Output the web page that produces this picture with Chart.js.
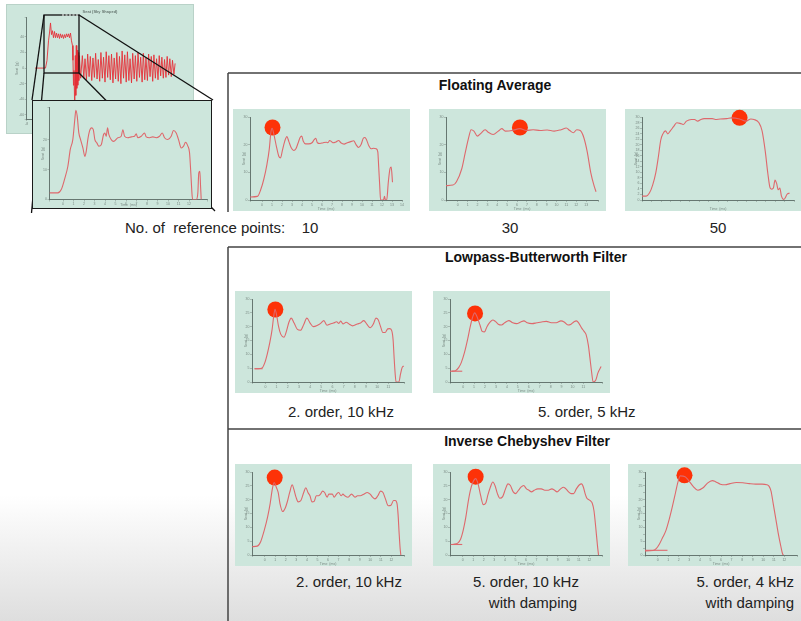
<!DOCTYPE html>
<html><head><meta charset="utf-8">
<script src="https://cdn.jsdelivr.net/npm/chart.js@4"></script>
<style>
html,body{margin:0;padding:0;}
body{width:801px;height:621px;overflow:hidden;position:relative;font-family:"Liberation Sans",Arial,sans-serif;background:linear-gradient(to bottom,#fff 0px,#fff 495px,#dedede 621px);}
.panel{position:absolute;background:#cde6dc;}
canvas{display:block;}
.t{position:absolute;white-space:pre;color:#222;font-size:15px;line-height:18px;}
.b{font-weight:bold;font-size:14px;color:#111;}
</style></head><body>

<div class="panel" style="left:7px;top:5px;width:186px;height:128px;z-index:0;box-shadow:0 0 0 1px #b9d2c8;"><canvas id="big" width="186" height="128"></canvas></div>

<svg width="801" height="621" style="position:absolute;left:0;top:0;z-index:1" stroke="#111" stroke-width="1.3" fill="none">
<rect x="44" y="15" width="35" height="58"/>
<line x1="44" y1="15" x2="32" y2="100"/>
<line x1="44" y1="73" x2="31.5" y2="213"/>
<line x1="79" y1="15" x2="213" y2="100"/>
<line x1="79" y1="73" x2="215" y2="211"/>
<line x1="62" y1="15" x2="78" y2="15" stroke="#fff" stroke-width="1" stroke-dasharray="2 1.5"/>
</svg>

<div style="position:absolute;left:32px;top:100px;width:180px;height:109px;box-sizing:border-box;border:1.5px solid #1a1a1a;background:#cde6dc;z-index:2;"><canvas id="inset" width="177" height="106"></canvas></div>

<svg width="801" height="621" style="position:absolute;left:0;top:0;z-index:3" stroke="#444" stroke-width="1.5" fill="none">
<path d="M228,73 H801 M228,73 V212 M228,247 H801 M228,247 V621 M228,429 H801"/>
</svg>

<div class="panel" style="left:233px;top:109px;width:177px;height:102px;"><canvas id="fa10" width="177" height="102"></canvas></div>
<div class="panel" style="left:429px;top:109px;width:177px;height:102px;"><canvas id="fa30" width="177" height="102"></canvas></div>
<div class="panel" style="left:625px;top:109px;width:177px;height:102px;"><canvas id="fa50" width="177" height="102"></canvas></div>
<div class="panel" style="left:235px;top:291px;width:177px;height:102px;"><canvas id="bw1" width="177" height="102"></canvas></div>
<div class="panel" style="left:433px;top:291px;width:177px;height:102px;"><canvas id="bw2" width="177" height="102"></canvas></div>
<div class="panel" style="left:235px;top:464px;width:177px;height:102px;"><canvas id="ch1" width="177" height="102"></canvas></div>
<div class="panel" style="left:433px;top:464px;width:177px;height:102px;"><canvas id="ch2" width="177" height="102"></canvas></div>
<div class="panel" style="left:628px;top:464px;width:177px;height:102px;"><canvas id="ch3" width="177" height="102"></canvas></div>

<div class="t b" style="left:395px;width:200px;text-align:center;top:76px;">Floating Average</div>
<div class="t" style="left:125px;top:219px;">No. of  reference points:    10</div>
<div class="t" style="left:470px;width:80px;text-align:center;top:219px;">30</div>
<div class="t" style="left:678px;width:80px;text-align:center;top:219px;">50</div>
<div class="t b" style="left:436px;width:200px;text-align:center;top:248px;">Lowpass-Butterworth Filter</div>
<div class="t" style="left:288px;top:403px;">2. order, 10 kHz</div>
<div class="t" style="left:538px;top:403px;">5. order, 5 kHz</div>
<div class="t b" style="left:427px;width:200px;text-align:center;top:432px;">Inverse Chebyshev Filter</div>
<div class="t" style="left:249px;width:200px;text-align:center;top:573px;">2. order, 10 kHz</div>
<div class="t" style="left:426px;width:200px;text-align:center;top:573px;">5. order, 10 kHz</div>
<div class="t" style="left:433px;width:200px;text-align:center;top:594px;">with damping</div>
<div class="t" style="left:594px;width:200px;text-align:right;top:573px;">5. order, 4 kHz</div>
<div class="t" style="left:594px;width:200px;text-align:right;top:594px;">with damping</div>

<script>
// ---------- data (time in ms, value in g) ----------
const bigSignal = [[-4.56,0],[-0.2,0],[0.42,9.8],[1.05,35],[1.46,45],[1.88,58],[2.29,43],[2.7,48],[3.12,39],[3.54,47],[3.95,39],[4.37,45],[4.78,39],[5.2,44],[5.61,38],[6.02,44],[6.44,39],[6.85,43],[7.27,38],[7.68,43],[8.1,39],[8.51,44],[8.93,40],[9.34,44],[9.76,39],[10.17,45],[10.59,35],[11.0,29],[11.21,10],[11.42,-22],[11.63,-3],[11.96,-57],[12.17,16],[12.37,-35],[12.58,29],[12.79,-26],[13.0,23],[13.2,-22],[13.41,20],[13.62,-16],[13.83,16],
[14.4,-13],[15.1,16],[15.7,-13],[16.2,12],[16.8,-15],[17.3,18],[17.9,-11],[18.4,15],[19.0,-16],[19.5,13],[20.1,-12],[20.6,19],[21.2,-14],[21.7,11],[22.3,-17],[22.8,20],[23.4,-13],[23.9,14],[24.5,-18],[25.0,21],[25.6,-12],[26.1,16],[26.7,-15],[27.2,18],[27.8,-19],[28.3,13],[28.9,-14],[29.4,20],[30.0,-17],[30.5,15],[31.1,-20],[31.6,22],[32.2,-13],[32.7,17],[33.3,-18],[33.8,21],[34.4,-16],[34.9,12],[35.5,-19],[36.0,19],[36.6,-14],[37.1,16],[37.7,-17],[38.2,20],[38.8,-12],[39.3,14],[39.9,-18],[40.4,19],[41.0,-15],[41.5,13],[42.1,-16],[42.6,18],[43.2,-11],[43.7,15],[44.3,-17],[44.8,17],[45.4,-13],[45.9,12],[46.5,-15],[47.0,16],[47.6,-10],[48.1,14],[48.7,-13],[49.2,11],[49.8,-12],[50.3,15],[50.9,-9],[51.4,12],[52.0,-11],[52.5,10],[53.1,-8],[53.6,6]];
const bigYTicks = [-60,-40,-20,0,20,40,60];

const insetSignal = [[-1.29,2.2],[-0.5,2.2],[-0.17,3.3],[0.14,6.7],[0.46,11.1],[0.69,16.7],[0.93,20],[1.12,26.7],[1.22,29.8],[1.35,27.8],[1.5,22.3],[1.67,20],[1.89,17.2],[2.08,14.4],[2.21,16.1],[2.36,20],[2.52,22.8],[2.71,23.9],[2.88,23.3],[3.03,20],[3.22,18.9],[3.41,17.8],[3.64,18.3],[3.86,21.7],[3.98,22.2],[4.11,21.1],[4.24,23.9],[4.36,21.7],[4.59,20],[4.81,19.4],[5.22,20.6],[5.54,21.1],[5.7,23.3],[5.86,21.1],[6.17,20.6],[6.5,20.9],[6.81,21.1],[6.97,21.9],[7.12,20.6],[7.45,21.1],[7.76,22.2],[7.92,20.9],[8.24,20.6],[8.55,20.9],[8.88,20.6],[9.19,21.1],[9.45,22.2],[9.67,20.6],[9.98,20],[10.3,21.1],[10.52,23],[10.78,22.2],[11.0,20],[11.26,17.2],[11.48,17.8],[11.67,19.1],[11.89,17.8],[12.05,15.6],[12.17,8.9],[12.3,1.1],[12.36,0],[12.69,0],[12.84,2.2],[12.93,8.9],[13.03,9.4],[13.1,4.4],[13.16,0]];

const fa10 = [[-1.2,1.1],[-0.46,1.3],[-0.14,3.6],[0.18,7.5],[0.5,13.0],[0.73,18.5],[0.89,24.5],[1.01,25.9],[1.21,23.4],[1.46,19.0],[1.69,15.7],[1.85,15.2],[2.04,17.9],[2.27,21.2],[2.49,22.9],[2.68,21.2],[2.91,19.0],[3.17,17.9],[3.39,18.5],[3.62,20.7],[3.81,22.6],[3.97,23.1],[4.13,21.2],[4.35,20.3],[4.67,20.3],[5.0,20.7],[5.22,21.8],[5.38,22.3],[5.54,20.7],[5.8,20.4],[6.12,20.7],[6.44,20.9],[6.6,20.7],[6.76,21.5],[6.92,21.2],[7.08,20.7],[7.4,21.0],[7.66,21.5],[7.88,20.7],[8.21,20.2],[8.53,20.7],[8.94,21.2],[9.17,21.4],[9.39,20.1],[9.65,19.0],[9.91,20.1],[10.13,22.3],[10.29,22.6],[10.45,21.8],[10.68,19.6],[10.93,18.5],[11.16,18.7],[11.42,18.5],[11.58,17.4],[11.67,11.9],[11.77,5.3],[11.86,0],[12.15,0],[12.25,1.3],[12.34,0],[12.47,0],[12.63,6.4],[12.8,11.3],[12.92,11.9],[13.05,6.4]];
const fa30 = [[-1.2,5.2],[-0.49,5.4],[-0.14,6.6],[0.39,11.2],[0.74,16.9],[1.1,22.6],[1.34,25.4],[1.63,24.9],[1.98,23.1],[2.33,24.1],[2.76,25.4],[3.04,24.6],[3.57,23.7],[4.1,24.9],[4.45,25.8],[4.81,24.9],[5.51,25.1],[6.29,25.8],[6.93,25.1],[7.63,25.4],[8.34,25.1],[9.05,25.3],[9.75,24.9],[10.46,25.4],[10.99,26.0],[11.34,25.1],[11.7,24.3],[12.05,25.4],[12.4,25.1],[12.76,22.6],[13.11,17.4],[13.46,10.0],[13.82,4.9],[14.0,3.0]];
const fa50 = [[-1.2,1.4],[-0.76,1.4],[-0.42,2.5],[-0.08,5.4],[0.26,10.0],[0.53,15.8],[0.77,21.6],[1.0,23.9],[1.27,25.0],[1.51,23.9],[1.78,25.0],[2.12,26.5],[2.46,27.9],[2.8,27.7],[3.14,27.3],[3.48,28.5],[3.99,29.1],[4.33,29.1],[4.66,28.5],[5.0,29.1],[5.34,29.4],[6.19,29.4],[6.53,29.1],[7.04,29.3],[7.72,29.4],[8.22,29.7],[9.07,29.3],[9.75,28.5],[10.26,29.3],[10.6,29.1],[11.11,27.9],[11.44,25.0],[11.78,17.5],[12.05,9.5],[12.29,4.3],[12.46,3.9],[12.63,4.3],[12.8,7.2],[12.97,6.0],[13.14,3.7],[13.31,4.3],[13.48,1.4],[13.72,0.2],[13.88,0.8],[14.05,2.0],[14.33,2.5]];
const bw1 = [[-0.97,4.8],[-0.63,4.8],[-0.29,5.1],[-0.06,6.9],[0.17,10.2],[0.4,14.4],[0.6,19.0],[0.74,23.7],[0.86,26.3],[1.0,24.2],[1.17,20.2],[1.37,17.3],[1.66,16.2],[1.89,18.5],[2.11,21.7],[2.31,23.1],[2.57,21.3],[2.86,19.0],[3.14,18.7],[3.43,20.8],[3.71,23.1],[4.0,21.3],[4.29,20.0],[4.66,20.5],[4.94,21.2],[5.23,22.2],[5.51,20.5],[5.8,21.0],[6.09,21.3],[6.37,21.8],[6.57,21.2],[6.74,22.0],[6.94,21.0],[7.23,21.6],[7.51,20.9],[7.8,20.3],[8.23,21.0],[8.51,21.3],[8.8,22.2],[9.09,20.8],[9.37,19.6],[9.66,21.0],[9.89,23.1],[10.09,22.5],[10.29,20.2],[10.51,17.9],[10.71,17.9],[10.94,19.2],[11.14,19.3],[11.31,18.5],[11.43,15.0],[11.51,9.2],[11.6,3.5],[11.69,0],[11.94,0],[12.09,2.9],[12.23,5.2],[12.37,5.8]];
const bw2 = [[-1.05,3.9],[-0.7,4.1],[-0.41,5.2],[-0.17,7.0],[0.12,10.6],[0.42,15.6],[0.65,20.0],[0.86,23.3],[1.06,25.0],[1.3,23.3],[1.54,20.6],[1.74,18.3],[1.95,18.1],[2.18,20.0],[2.48,21.7],[2.71,22.4],[2.95,21.9],[3.21,20.9],[3.51,20.6],[3.8,21.4],[4.18,22.2],[4.54,21.4],[4.89,21.1],[5.27,21.7],[5.56,22.1],[5.86,21.4],[6.3,21.1],[6.74,21.4],[7.18,21.7],[7.62,21.9],[8.06,21.4],[8.51,21.4],[8.95,22.1],[9.24,21.7],[9.59,20.6],[9.83,20.8],[10.12,21.7],[10.36,22.1],[10.56,21.4],[10.86,19.4],[11.06,18.3],[11.24,17.2],[11.45,13.3],[11.59,8.9],[11.74,3.9],[11.89,0],[12.12,0.6],[12.33,3.3],[12.62,5.6]];
const ch1 = [[-1.2,3.0],[-0.7,3.2],[-0.37,4.9],[-0.04,8.9],[0.29,14.0],[0.52,18.6],[0.72,23.7],[0.89,26.2],[1.12,24.3],[1.28,22.6],[1.45,18.6],[1.71,15.7],[1.94,16.9],[2.18,19.7],[2.37,22.6],[2.61,25.4],[2.77,23.7],[2.97,20.9],[3.17,19.2],[3.43,19.7],[3.7,22.6],[3.9,24.3],[4.1,22.6],[4.29,21.4],[4.49,19.2],[4.69,19.4],[4.89,21.4],[5.09,21.4],[5.29,22.0],[5.49,23.1],[5.68,22.6],[5.92,20.9],[6.08,22.0],[6.41,22.0],[6.58,20.9],[6.81,22.0],[7.01,22.6],[7.24,21.4],[7.41,22.0],[7.6,21.4],[7.9,20.9],[8.23,22.0],[8.56,20.9],[8.8,21.4],[9.06,21.4],[9.39,22.0],[9.72,22.6],[9.99,22.0],[10.22,20.9],[10.45,20.3],[10.72,21.4],[10.98,23.1],[11.21,22.6],[11.44,20.3],[11.71,17.8],[11.97,18.0],[12.21,19.7],[12.37,19.7],[12.54,18.6],[12.64,14.6],[12.74,7.8],[12.84,2.1],[12.9,0]];
const ch2 = [[-0.87,3.9],[-0.47,4.3],[-0.2,5.7],[0.06,9.1],[0.3,13.7],[0.53,19.4],[0.73,23.4],[0.96,26.2],[1.23,27.6],[1.46,25.7],[1.69,21.7],[1.96,18.2],[2.19,18.8],[2.39,21.7],[2.62,24.5],[2.86,26.4],[3.06,25.1],[3.29,22.2],[3.52,20.5],[3.79,21.1],[4.06,23.9],[4.29,25.7],[4.52,25.1],[4.79,22.8],[5.02,22.2],[5.29,23.4],[5.52,24.5],[5.78,25.1],[6.05,23.9],[6.28,23.4],[6.52,22.8],[6.78,23.4],[7.12,23.9],[7.45,23.9],[7.78,23.4],[8.11,23.4],[8.45,23.9],[8.71,23.4],[8.94,22.8],[9.28,23.9],[9.54,24.5],[9.78,23.9],[10.04,22.8],[10.27,22.2],[10.51,22.2],[10.77,23.9],[11.04,25.3],[11.27,25.7],[11.44,24.5],[11.6,22.2],[11.77,20.5],[11.94,20.0],[12.1,19.6],[12.27,18.8],[12.44,16.0],[12.6,10.3],[12.77,3.4],[12.87,0]];
const ch3 = [[-1.2,1.5],[-0.44,1.6],[-0.14,2.3],[0.17,4.0],[0.47,6.3],[0.77,8.7],[1.08,12.7],[1.38,17.3],[1.69,22.5],[1.93,26.5],[2.14,28.6],[2.6,28.3],[2.9,27.1],[3.36,24.8],[3.81,23.4],[4.27,24.2],[4.72,26.0],[5.18,26.9],[5.48,26.5],[5.94,25.6],[6.39,25.4],[6.85,25.8],[7.46,26.2],[8.07,26.1],[8.67,25.8],[9.28,25.6],[9.89,25.6],[10.34,25.4],[10.56,24.8],[10.74,23.1],[10.95,18.5],[11.16,13.8],[11.41,8.1],[11.65,3.5],[11.86,0.2],[11.95,0]];

// short reference (pre-trigger) segments
const bw1Base = [[-0.97,4.8],[-0.25,4.8]];
const bw2Base = [[-1.2,3.9],[-0.08,3.9]];
const ch2Base = [[-1.13,3.8],[-0.04,3.8]];
const ch3Base = [[-1.2,1.7],[0.93,1.7]];

// marked peaks (red dots)
const fa10Dot = [1.05,26.2], fa30Dot = [6.29,26.2], fa50Dot = [9.07,29.7];
const bw1Dot = [0.89,26.2], bw2Dot = [1.09,24.8];
const ch1Dot = [0.95,28.0], ch2Dot = [1.23,28.3], ch3Dot = [2.54,28.8];

// ---------- drawing ----------
Chart.defaults.font.family = '"Liberation Sans", Arial, sans-serif';
const LINE = 'rgb(222,104,108)';
const DOT = '#fd3208';
const TICKC = '#7a8a84';
const pts = a => a.map(p => ({x:p[0], y:p[1]}));
const intLabel = v => (Math.abs(v - Math.round(v)) < 1e-6 ? String(Math.round(v)) : '');

function axes(xMin, xMax, yMin, yMax, yStep, lay) {
  const grid = {drawOnChartArea:false, drawTicks:true, tickLength:2, color:'#8a9a94', lineWidth:0.6};
  const border = {display:true, color:'#5a6a64', width:0.9};
  return {
    x:{type:'linear', min:xMin, max:xMax, afterFit:s=>{s.height=lay.b; s.paddingLeft=0; s.paddingRight=0;},
       ticks:{stepSize:lay.xStep||1, autoSkip:false, maxRotation:0, font:{size:3.5}, color:TICKC, padding:0.5, callback:intLabel},
       grid, border, title:{display:true, text:'Time  (ms)', font:{size:3.5}, color:TICKC, padding:0}},
    y:{type:'linear', min:yMin, max:yMax, afterFit:s=>{s.width=lay.yw; s.paddingTop=0; s.paddingBottom=0;},
       ticks:{stepSize:yStep, autoSkip:false, font:{size:3.5}, color:TICKC, padding:0.5, callback:lay.yCb||intLabel},
       grid, border, title:{display:true, text:'Seat  (g)', font:{size:3.5}, color:TICKC, padding:0}}
  };
}

function small(id, data, dot, xMax, yStep, base) {
  const ds = [{data:pts(data), borderColor:LINE, borderWidth:1.1, pointRadius:0, cubicInterpolationMode:'monotone', fill:false}];
  if (base) ds.push({data:pts(base), borderColor:LINE, borderWidth:1.1, pointRadius:0, fill:false});
  ds.push({type:'scatter', data:pts([dot]), pointRadius:8, pointHoverRadius:8, backgroundColor:DOT, borderWidth:0, clip:false});
  new Chart(document.getElementById(id), {
    type:'line', data:{datasets:ds},
    options:{responsive:false, animation:false, devicePixelRatio:1, events:[],
      layout:{padding:{left:9, top:3, right:2, bottom:0}},
      plugins:{legend:{display:false}, tooltip:{enabled:false}},
      scales:axes(-1.2, xMax, 0, 30, yStep, {b:11, yw:8})}
  });
}

small('fa10', fa10, fa10Dot, 14.0, 10);
small('fa30', fa30, fa30Dot, 14.2, 10);
small('fa50', fa50, fa50Dot, 14.8, 2);
small('bw1', bw1, bw1Dot, 12.4, 5, bw1Base);
small('bw2', bw2, bw2Dot, 12.7, 5, bw2Base);
small('ch1', ch1, ch1Dot, 13.2, 5);
small('ch2', ch2, ch2Dot, 13.2, 5, ch2Base);
small('ch3', ch3, ch3Dot, 13.2, 2.5, ch3Base);

// inset (zoomed raw signal)
new Chart(document.getElementById('inset'), {
  type:'line', data:{datasets:[{data:pts(insetSignal), borderColor:LINE, borderWidth:1.1, pointRadius:0, cubicInterpolationMode:'monotone', fill:false}]},
  options:{responsive:false, animation:false, devicePixelRatio:1, events:[],
    layout:{padding:{left:8, top:6.5, right:2.5, bottom:0}},
    plugins:{legend:{display:false}, tooltip:{enabled:false}},
    scales:axes(-1.29, 13.76, 0, 30.7, 10, {b:7.5, yw:8.5})}
});

// full raw signal
const bigAxes = axes(-8, 57.7, -65.4, 64.6, 20, {b:14, yw:11.7, xStep:10, yCb:v=>bigYTicks.includes(Math.round(v)) && Math.abs(v-Math.round(v))<1e-6 ? String(v) : ''});
new Chart(document.getElementById('big'), {
  type:'line', data:{datasets:[{data:pts(bigSignal), borderColor:'rgb(228,48,56)', borderWidth:0.9, pointRadius:0, tension:0, fill:false}]},
  options:{responsive:false, animation:false, devicePixelRatio:1, events:[],
    layout:{padding:{left:8, top:2, right:8, bottom:0}},
    plugins:{legend:{display:false}, tooltip:{enabled:false},
      title:{display:true, text:'Seat (Sky Shaped)', font:{size:4}, color:'#6a7a74', padding:{top:2, bottom:4}}},
    scales:bigAxes}
});
</script>
</body></html>
